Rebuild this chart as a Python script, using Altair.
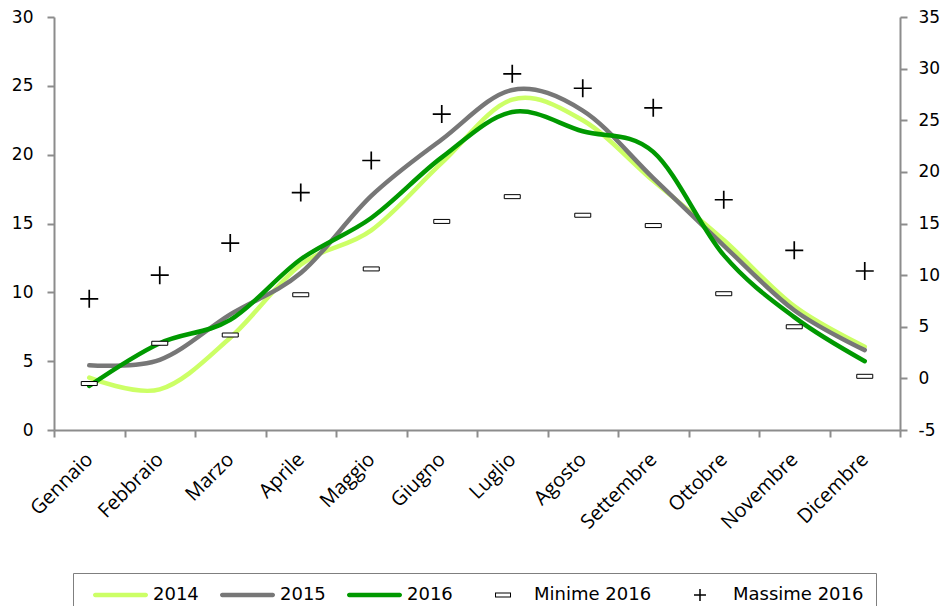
import altair as alt
import pandas as pd

mesi = ["Gennaio", "Febbraio", "Marzo", "Aprile", "Maggio", "Giugno",
        "Luglio", "Agosto", "Settembre", "Ottobre", "Novembre", "Dicembre"]

t2014 = [3.8, 2.95, 6.7, 12.0, 14.5, 19.4, 24.0, 22.5, 18.1, 13.8, 9.0, 6.05]
t2015 = [4.7, 5.1, 8.4, 11.4, 17.0, 21.1, 24.7, 23.2, 18.3, 13.4, 8.7, 5.8]
t2016 = [3.2, 6.3, 8.0, 12.4, 15.4, 19.8, 23.1, 21.7, 20.2, 12.7, 8.2, 5.0]

minime_2016 = [-0.5, 3.4, 4.2, 8.1, 10.6, 15.2, 17.6, 15.8, 14.8, 8.2, 5.0, 0.2]
massime_2016 = [7.7, 10.0, 13.1, 18.0, 21.1, 25.6, 29.5, 28.1, 26.2, 17.3, 12.4, 10.4]

anni = ["2014", "2015", "2016"]
colori_anni = ["#ccff66", "#777777", "#009900"]
serie = ["2014", "2015", "2016", "Minime 2016", "Massime 2016"]
colori = ["#ccff66", "#777777", "#009900", "#000000", "#000000"]

# legend symbol shapes (symbolSize 3969 -> 31.5 px per unit)
bar = "M-0.676,-0.07H0.93A0.07,0.07 0 0 1 0.93,0.07H-0.676A0.07,0.07 0 0 1 -0.676,-0.07Z"
ring = "M-0.079,-0.079H0.429V0.079H-0.079ZM-0.047,-0.048V0.048H0.397V-0.048Z"
plus = "M-0.079,-0.024H0.087V-0.19H0.135V-0.024H0.301V0.024H0.135V0.19H0.087V0.024H-0.079Z"
forme_legenda = [bar, bar, bar, ring, plus]

df_lines = pd.DataFrame({
    "mese": mesi * 3,
    "serie": ["2014"] * 12 + ["2015"] * 12 + ["2016"] * 12,
    "valore": t2014 + t2015 + t2016,
})
df_min = pd.DataFrame({"mese": mesi, "valore": minime_2016})
df_max = pd.DataFrame({"mese": mesi, "valore": massime_2016})
df_leg = pd.DataFrame({"serie": serie})

x_enc = alt.X(
    "mese:N",
    sort=mesi,
    bandPosition=0.5,
    scale=alt.Scale(type="band", domain=mesi, paddingInner=0, paddingOuter=0),
    axis=alt.Axis(title=None, tickBand="extent", labelAngle=-45, labelAlign="right",
                  labelBaseline="middle", labelFont="Open Sans",
                  labelFontSize=20, labelPadding=19),
)

y_left = alt.Y("valore:Q",
               scale=alt.Scale(domain=[0, 30], nice=False, zero=False),
               axis=alt.Axis(title=None, orient="left", values=list(range(0, 31, 5)), labelPadding=14))
y_right = alt.Y("valore:Q",
                scale=alt.Scale(domain=[-5, 35], nice=False, zero=False),
                axis=alt.Axis(title=None, orient="right", values=list(range(-5, 36, 5)), labelPadding=11,
                              labelExpr="datum.value < 0 ? '-' + abs(datum.value) : datum.label"))

lines = alt.Chart(df_lines).mark_line(strokeWidth=4.5, interpolate="cardinal", strokeCap="round").encode(
    x=x_enc,
    y=y_left,
    stroke=alt.Stroke("serie:N", scale=alt.Scale(domain=anni, range=colori_anni), legend=None),
)

minime_layer = alt.Chart(df_min).mark_point(
    shape="M-1,-0.25H1V0.25H-1Z", size=256, filled=True, fill="white",
    stroke="black", strokeWidth=1, opacity=1
).encode(x=x_enc, y=y_right)

massime_layer = alt.Chart(df_max).mark_point(
    shape="M-1,0H1M0,-1V1", size=324, filled=False, stroke="black",
    strokeWidth=1.7, opacity=1
).encode(x=x_enc, y=y_right)

leg_cfg = alt.Legend(
    orient="none", legendX=19, legendY=556, direction="horizontal", title=None,
    symbolSize=3969, symbolStrokeWidth=0, symbolOpacity=1, clipHeight=20,
    labelFont="DejaVu Sans", labelFontSize=18, labelColor="black", labelOffset=5,
    columnPadding=13, padding=12, strokeColor="#7f7f7f", fillColor="white", labelLimit=300,
)

legend_layer = alt.Chart(df_leg).transform_filter("false").mark_point(
    filled=True, opacity=1, size=3969
).encode(
    color=alt.Color("serie:N", scale=alt.Scale(domain=serie, range=colori), legend=leg_cfg),
    shape=alt.Shape("serie:N", scale=alt.Scale(domain=serie, range=forme_legenda), legend=leg_cfg),
)

chart = alt.layer(
    lines, alt.layer(minime_layer, massime_layer), legend_layer
).resolve_scale(y="independent").properties(
    width=846, height=413,
    padding={"left": 46, "top": 9, "right": 41, "bottom": 176},
    autosize=alt.AutoSizeParams(type="none"),
).configure_axis(
    domainColor="#8c8c8c", domainWidth=2, tickColor="#8c8c8c", tickWidth=2, tickSize=7,
    grid=False, labelFont="DejaVu Sans", labelFontSize=17, labelColor="#000000",
).configure_view(stroke=None)

chart.save("out.html", embed_options={"renderer": "svg", "actions": False})
